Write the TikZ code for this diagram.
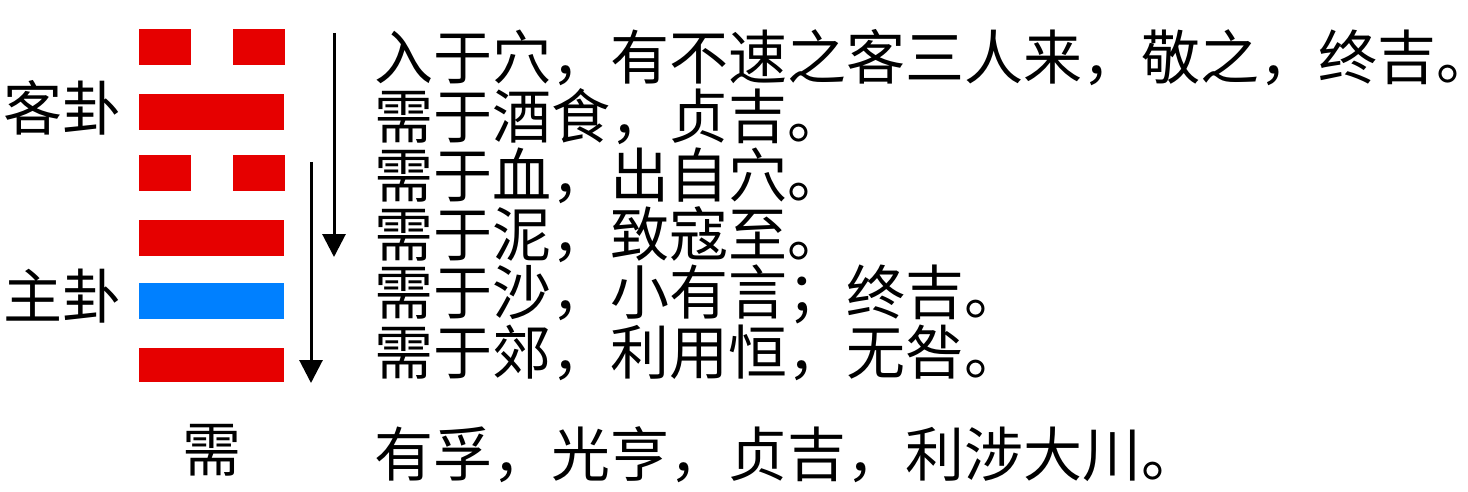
\documentclass[tikz,border=0pt]{standalone}
\usepackage{fontspec}
\setmainfont{Noto Sans CJK SC}
\usepackage{tikz}
\usetikzlibrary{arrows.meta}
\usepackage{xcolor}
\definecolor{yaored}{RGB}{230,0,0}
\definecolor{yaoblue}{RGB}{0,128,255}

\begin{document}
\begin{tikzpicture}[
  x=1pt, y=-1pt,
  every node/.style={font=\fontsize{59pt}{61pt}\selectfont, inner sep=0pt, outer sep=0pt},
  yang/.style={
    fill=yaored,
    minimum width=145pt,
    minimum height=36pt
  },
  yinhalf/.style={
    fill=yaored,
    minimum width=52pt,
    minimum height=36pt
  },
  moving/.style={yang, fill=yaoblue},
  textline/.style={anchor=west},
  arrow/.style={
    -{Triangle[length=23pt,width=23pt]},
    line width=3pt
  }
]
\useasboundingbox (0,0) rectangle (1468,492);

% ------------------------------------------------
% Hexagram bars (top to bottom)
% ------------------------------------------------
\node[yinhalf] (y6l) at (165,47.5) {};
\node[yinhalf] (y6r) at (258.5,47.5) {};
\node[yang]    (y5)  at (211.5,112) {};
\node[yinhalf] (y4l) at (165,173) {};
\node[yinhalf] (y4r) at (258.5,173) {};
\node[yang]    (y3)  at (211.5,238) {};
\node[moving]  (y2)  at (211.5,301) {};
\node[yang, minimum height=34pt] (y1) at (211.5,364.5) {};

% Trigram labels
\node (guest) at (63,108) {客卦};
\node (host)  at (63,296) {主卦};
\node (name)  at (212,450) {需};

% ------------------------------------------------
% Arrows
% ------------------------------------------------
\coordinate (upperStart) at (334,33);
\coordinate (upperEnd)   at (334,257);
\coordinate (lowerStart) at (311,162);
\coordinate (lowerEnd)   at (311,383);

\draw[arrow] (upperStart) -- (upperEnd);
\draw[arrow] (lowerStart) -- (lowerEnd);

% ------------------------------------------------
% Line texts
% ------------------------------------------------
\node[textline] (line6) at (374,58)  {入于穴，有不速之客三人来，敬之，终吉。};
\node[textline] (line5) at (374,117) {需于酒食，贞吉。};
\node[textline] (line4) at (374,176) {需于血，出自穴。};
\node[textline] (line3) at (374,235) {需于泥，致寇至。};
\node[textline] (line2) at (374,294) {需于沙，小有言；终吉。};
\node[textline] (line1) at (374,353) {需于郊，利用恒，无咎。};

\node[textline] (judge) at (374,455) {有孚，光亨，贞吉，利涉大川。};

\end{tikzpicture}
\end{document}
